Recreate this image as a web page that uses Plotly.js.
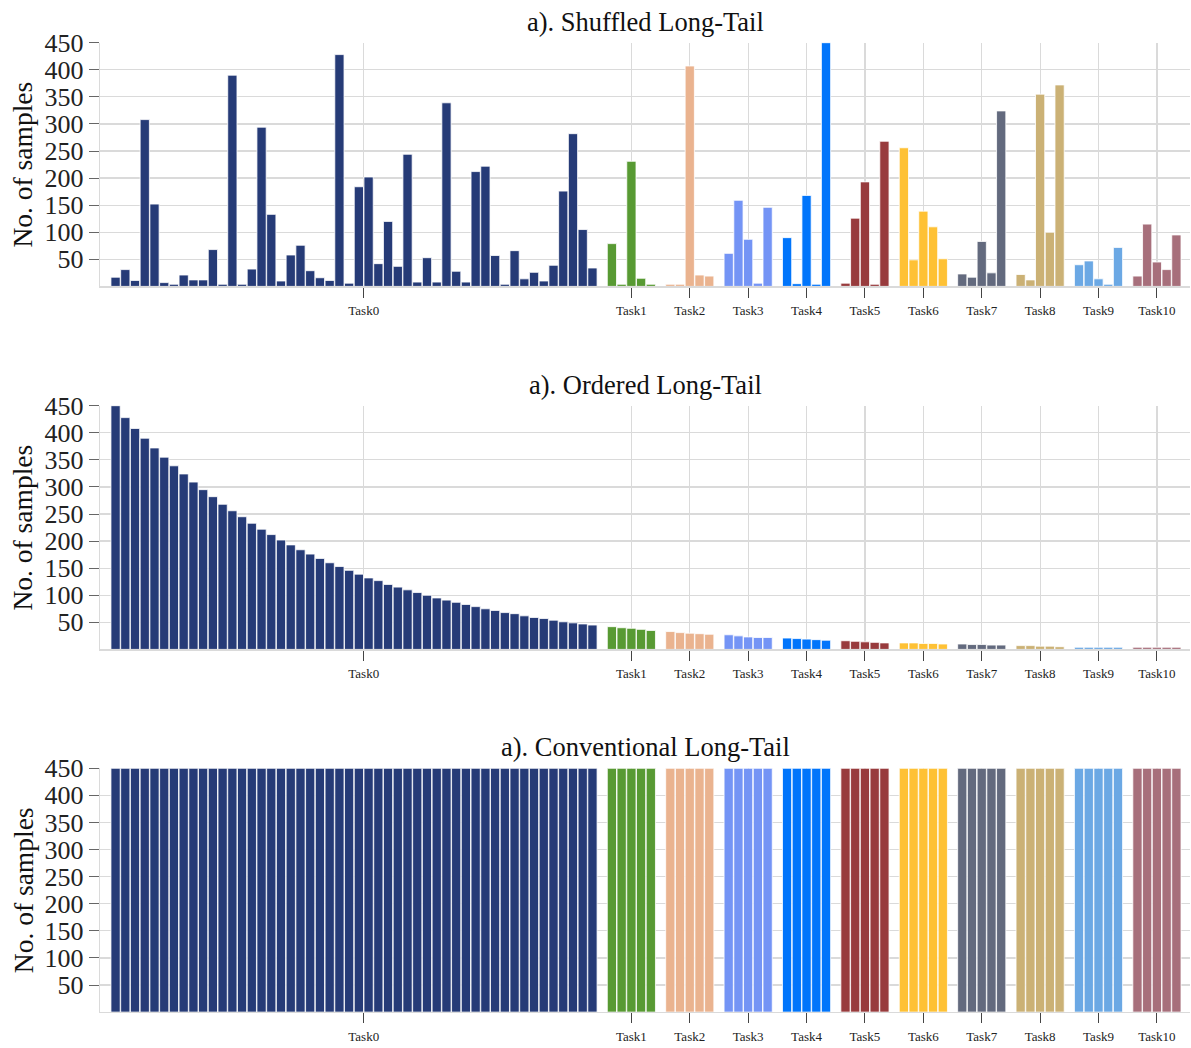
<!DOCTYPE html>
<html>
<head>
<meta charset="utf-8">
<script src="https://cdn.plot.ly/plotly-3.0.1.min.js"></script>
<style>
  html, body { margin: 0; padding: 0; background: #ffffff; }
  #chart { width: 1191px; height: 1048px; }
</style>
</head>
<body>
<div id="chart"></div>
<script>
// ---------------- data ----------------
const taskNames = ['Task0','Task1','Task2','Task3','Task4','Task5','Task6','Task7','Task8','Task9','Task10'];
const taskColors = ['#263b77','#589a33','#eab38f','#7494f5','#0175fb','#983b3d','#fec135','#636a7e','#cbb175','#6ba8e4','#a76f7b'];

const plotTitles = ['a). Shuffled Long-Tail', 'a). Ordered Long-Tail', 'a). Conventional Long-Tail'];
const yTitle = 'No. of samples';
const yTickVals = [50,100,150,200,250,300,350,400,450];

// Shuffled long-tail
const shuffledTask0 = [17,31,11,308,152,7,4,21,12,12,68,4,390,4,32,294,133,10,58,76,
                       29,16,11,428,6,184,202,42,120,37,244,8,53,8,339,28,8,212,222,57,
                       4,66,14,26,10,39,176,282,105,34];
const shuffledTasks = [
  [79,4,231,15,4],
  [4,4,407,21,19],
  [61,159,87,6,146],
  [90,5,168,4,450],
  [6,126,193,4,268],
  [256,49,139,110,51],
  [23,17,83,25,324],
  [22,12,355,100,372],
  [40,47,14,4,72],
  [19,115,45,31,95]
];

// Ordered long-tail
const orderedTask0 = [450,428,408,390,372,355,339,324,309,295,282,268,256,245,233,222,212,202,193,184,
                      176,168,160,153,146,139,132,127,120,115,110,105,100,95,91,87,83,79,75,72,
                      68,66,62,59,57,54,51,49,47,45];
const orderedTasks = [
  [42,40,39,37,35],
  [33,31,30,29,28],
  [27,25,23,22,22],
  [21,20,19,18,17],
  [16,15,14,13,12],
  [12,12,11,11,10],
  [10,9,9,8,8],
  [7,7,6,6,5],
  [4,4,4,4,4],
  [4,4,4,4,4]
];

// Conventional (balanced)
const conventionalTask0 = [450,450,450,450,450,450,450,450,450,450,450,450,450,450,450,450,450,450,450,450,
                           450,450,450,450,450,450,450,450,450,450,450,450,450,450,450,450,450,450,450,450,
                           450,450,450,450,450,450,450,450,450,450];
const conventionalTasks = [
  [450,450,450,450,450],
  [450,450,450,450,450],
  [450,450,450,450,450],
  [450,450,450,450,450],
  [450,450,450,450,450],
  [450,450,450,450,450],
  [450,450,450,450,450],
  [450,450,450,450,450],
  [450,450,450,450,450],
  [450,450,450,450,450]
];

// ---------------- build ----------------
const panels = [
  [shuffledTask0].concat(shuffledTasks),
  [orderedTask0].concat(orderedTasks),
  [conventionalTask0].concat(conventionalTasks)
];

// slot positions: groups separated by one empty slot
function groupPositions(groups) {
  const pos = []; let start = 0;
  groups.forEach(g => {
    pos.push(g.map((_, i) => start + i));
    start += g.length + 1;
  });
  return pos;
}

const serif = '"Liberation Serif", "Times New Roman", serif';
const domains = [[0.72672, 0.95926], [0.38034, 0.61288], [0.03426, 0.26689]];

const traces = [];
const layout = {
  width: 1191, height: 1048,
  margin: {l: 100, r: 1, t: 0, b: 0, pad: 0},
  paper_bgcolor: '#ffffff', plot_bgcolor: '#ffffff',
  showlegend: false,
  barmode: 'overlay',
  hovermode: false,
  annotations: []
};

panels.forEach((groups, p) => {
  const pos = groupPositions(groups);
  const sfx = p === 0 ? '' : String(p + 1);
  groups.forEach((vals, t) => {
    traces.push({
      type: 'bar',
      x: pos[t], y: vals,
      width: 0.95,
      xaxis: 'x' + sfx, yaxis: 'y' + sfx,
      marker: {color: taskColors[t], line: {color: 'rgba(255,255,255,0.8)', width: 1}},
      name: taskNames[t]
    });
  });
  const tickVals = pos.map((ps, t) => {
    const c = (ps[0] + ps[ps.length - 1]) / 2;
    return t === 0 ? c + 1 : c;
  });
  layout['xaxis' + sfx] = {
    domain: [0, 1], anchor: 'y' + sfx,
    range: [-1.6, 110.4],
    tickmode: 'array', tickvals: tickVals, ticktext: taskNames,
    ticks: 'outside', ticklen: 10, tickwidth: 1, tickcolor: '#444',
    ticklabelstandoff: 2,
    tickfont: {family: serif, size: 13, color: '#222'},
    showgrid: true, gridcolor: '#dadada', gridwidth: 1.2,
    showline: true, linecolor: '#dadada', linewidth: 1.2,
    zeroline: false, automargin: false, fixedrange: true
  };
  layout['yaxis' + sfx] = {
    domain: domains[p], anchor: 'x' + sfx,
    range: [0, 450],
    tickmode: 'array', tickvals: yTickVals,
    ticks: 'outside', ticklen: 10, tickwidth: 1, tickcolor: '#666',
    tickfont: {family: serif, size: 26, color: '#222'},
    showgrid: true, gridcolor: '#dadada', gridwidth: 1.2,
    showline: true, linecolor: '#dadada', linewidth: 1.2,
    zeroline: false, automargin: false, fixedrange: true
  };
  const d = domains[p];
  layout.annotations.push({
    text: plotTitles[p], xref: 'paper', yref: 'paper',
    x: 0.5, y: d[1] + 21 / 1048, xanchor: 'center', yanchor: 'middle',
    showarrow: false, font: {family: serif, size: 26.5, color: '#111'}
  });
  layout.annotations.push({
    text: yTitle, xref: 'paper', yref: 'paper', textangle: -90,
    x: -77 / 1090, y: (d[0] + d[1]) / 2, xanchor: 'center', yanchor: 'middle',
    showarrow: false, font: {family: serif, size: 27.5, color: '#111'}
  });
});

Plotly.newPlot('chart', traces, layout, {displayModeBar: false, staticPlot: true});
</script>
</body>
</html>
